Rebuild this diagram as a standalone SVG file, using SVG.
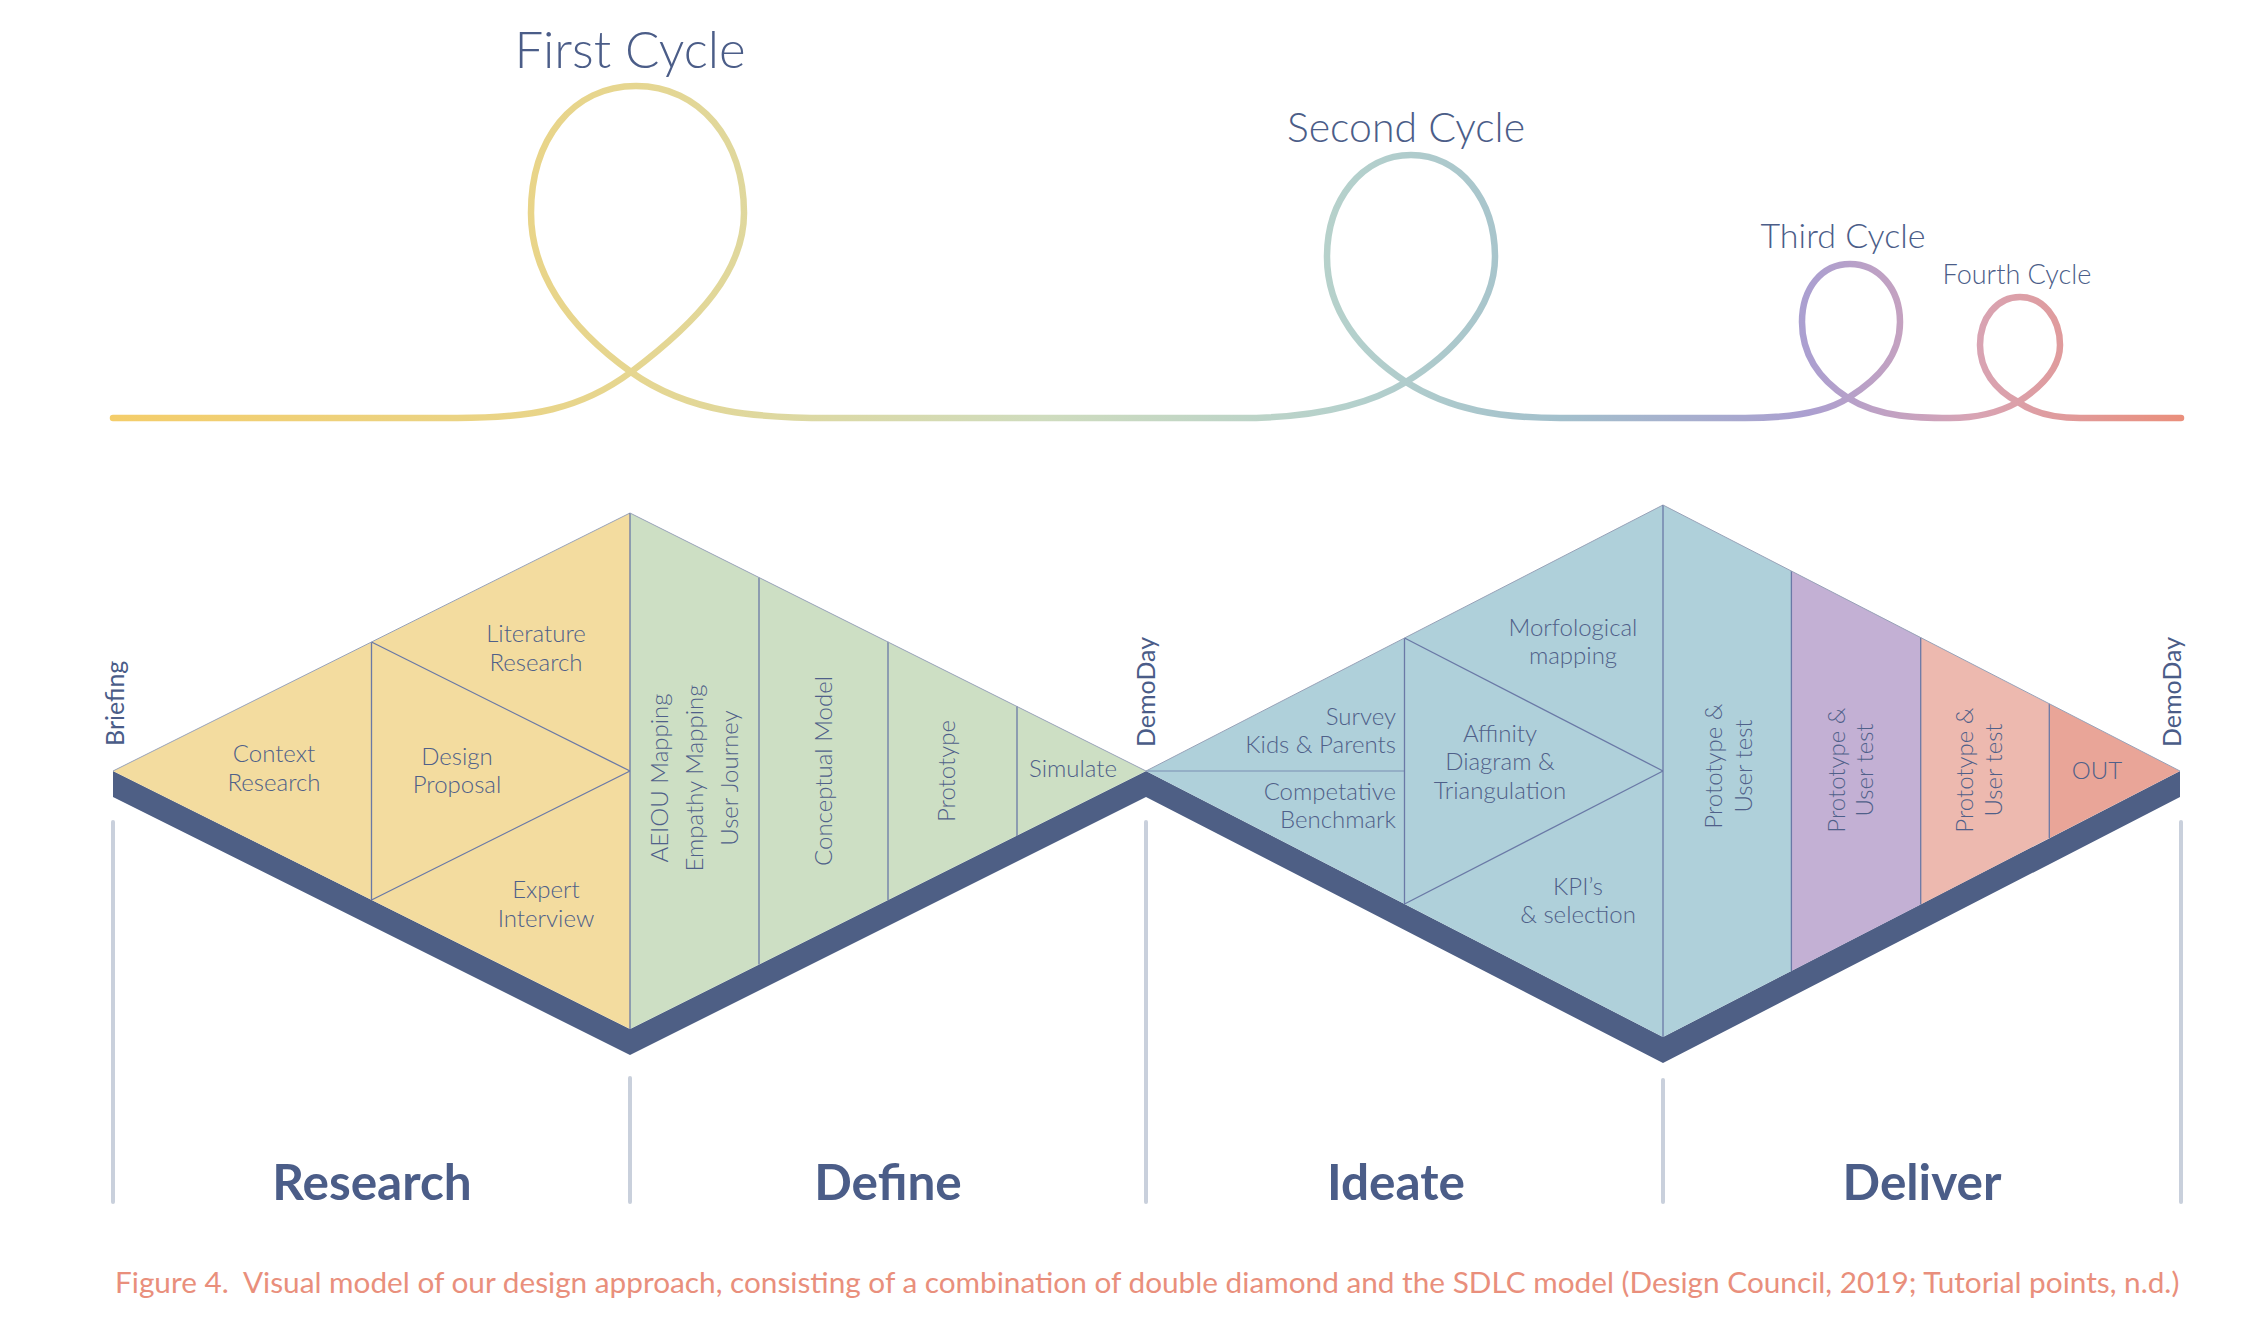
<svg xmlns="http://www.w3.org/2000/svg" width="2250" height="1334" viewBox="0 0 2250 1334">
  <style>
    .lbl { font-family: Lato, "Liberation Sans", sans-serif; font-weight: 300; font-size: 24px; fill: #4f6089; }
    .mid { text-anchor: middle; }
    .end { text-anchor: end; }
    .mark { font-family: Lato, "Liberation Sans", sans-serif; font-weight: 400; font-size: 25px; fill: #4a5c88; }
    .phase { font-family: Lato, "Liberation Sans", sans-serif; font-weight: 700; font-size: 49.5px; fill: #4b5d88; text-anchor: middle; }
    .cyc { font-family: Lato, "Liberation Sans", sans-serif; font-weight: 300; fill: #4b5d88; text-anchor: middle; }
    .div { stroke: #6a79a6; stroke-width: 1.3; fill: none; }
    .edge { stroke: #98a2b8; stroke-width: 1; fill: none; }
    .tick { stroke: #c9d0dc; stroke-width: 4; stroke-linecap: round; }
    .cap { font-family: Lato, "Liberation Sans", sans-serif; font-weight: 400; font-size: 29.75px; fill: #e98f7c; white-space: pre; }
  </style>
  <defs>
    <linearGradient id="cycGrad" gradientUnits="userSpaceOnUse" x1="113" y1="0" x2="2181" y2="0">
      <stop offset="0" stop-color="#f4cd6a"/>
      <stop offset="0.25" stop-color="#e6d690"/>
      <stop offset="0.45" stop-color="#cfdcbe"/>
      <stop offset="0.6" stop-color="#b4d0cc"/>
      <stop offset="0.7" stop-color="#a3c0cc"/>
      <stop offset="0.82" stop-color="#ab9fd0"/>
      <stop offset="0.9" stop-color="#d8a4b4"/>
      <stop offset="1" stop-color="#ea8f7c"/>
    </linearGradient>
  </defs>

  <!-- cycle line -->
  <g id="cycles">
    <path fill="none" stroke="url(#cycGrad)" stroke-width="6.5" stroke-linecap="round" d="M113,418 L457,418 C530,418 580,410 631,372 C700,320 744,270 744,213 C744,140 700,86 636,86 C572,86 531,140 531,213 C531,270 565,325 631,372 C690,414 760,418 830,418 L1240,418 C1300,418 1360,410 1406,382 C1450,355 1495,310 1495,257 C1495,200 1460,155 1411,155 C1362,155 1327,200 1327,257 C1327,310 1360,352 1406,382 C1450,410 1500,418 1560,418 L1745,418 C1790,418 1825,413 1848,398 C1880,378 1900,355 1900,322 C1900,288 1878,264 1850,264 C1822,264 1802,288 1802,322 C1802,355 1820,380 1848,398 C1880,418 1920,418 1950,418 C1980,418 2000,412 2018,402 C2040,388 2060,370 2060,345 C2060,318 2043,297 2020,297 C1997,297 1980,318 1980,345 C1980,370 1995,390 2018,402 C2035,414 2055,418 2080,418 L2181,418"/>
    <text class="cyc" x="630" y="68" font-size="51">First Cycle</text>
    <text class="cyc" x="1406" y="142" font-size="41">Second Cycle</text>
    <text class="cyc" x="1843" y="248" font-size="34">Third Cycle</text>
    <text class="cyc" x="2017" y="284" font-size="27">Fourth Cycle</text>
  </g>

  <!-- base shadow -->
  <g id="base">
    <polygon fill="#4e5f85" points="113,771 630,1029 1146,771 1663,1037 2180,771 2180,797 1663,1063 1146,797 630,1055 113,797"/>
  </g>

  <!-- Research -->
  <g id="research">
    <polygon fill="#f3dc9f" points="113,771 630,513 630,1029"/>
    <line class="div" x1="371.5" y1="642" x2="371.5" y2="900"/>
    <line class="div" x1="371.5" y1="642" x2="630" y2="771"/>
    <line class="div" x1="371.5" y1="900" x2="630" y2="771"/>
    <polyline class="edge" points="113,771 630,513"/>
    <text class="lbl mid" x="536" y="642">Literature</text>
    <text class="lbl mid" x="536" y="671">Research</text>
    <text class="lbl mid" x="274" y="762">Context</text>
    <text class="lbl mid" x="274" y="791">Research</text>
    <text class="lbl mid" x="457" y="765">Design</text>
    <text class="lbl mid" x="457" y="793">Proposal</text>
    <text class="lbl mid" x="546" y="898">Expert</text>
    <text class="lbl mid" x="546" y="927">Interview</text>
  </g>

  <!-- Define -->
  <g id="define">
    <polygon fill="#cddfc4" points="630,513 1146,771 630,1029"/>
    <line class="div" x1="630" y1="513" x2="630" y2="1029"/>
    <line class="div" x1="759" y1="577.4" x2="759" y2="964.6"/>
    <line class="div" x1="888" y1="641.7" x2="888" y2="900.3"/>
    <line class="div" x1="1017" y1="706.1" x2="1017" y2="835.9"/>
    <polyline class="edge" points="630,513 1146,771"/>
    <text class="lbl mid" transform="translate(668,778) rotate(-90)">AEIOU Mapping</text>
    <text class="lbl mid" transform="translate(703,778) rotate(-90)">Empathy Mapping</text>
    <text class="lbl mid" transform="translate(738,778) rotate(-90)">User Journey</text>
    <text class="lbl mid" transform="translate(832,771) rotate(-90)">Conceptual Model</text>
    <text class="lbl mid" transform="translate(955,771) rotate(-90)">Prototype</text>
    <text class="lbl mid" x="1073" y="777">Simulate</text>
  </g>

  <!-- Ideate -->
  <g id="ideate">
    <polygon fill="#afd0da" points="1146,771 1663,505 1663,1037"/>
    <line class="div" x1="1146" y1="771" x2="1404.5" y2="771" stroke-opacity="0.5"/>
    <line class="div" x1="1404.5" y1="638" x2="1404.5" y2="904"/>
    <line class="div" x1="1404.5" y1="638" x2="1663" y2="771"/>
    <line class="div" x1="1404.5" y1="904" x2="1663" y2="771"/>
    <polyline class="edge" points="1146,771 1663,505"/>
    <text class="lbl mid" x="1573" y="636">Morfological</text>
    <text class="lbl mid" x="1573" y="664">mapping</text>
    <text class="lbl end" x="1396" y="725">Survey</text>
    <text class="lbl end" x="1396" y="753">Kids &amp; Parents</text>
    <text class="lbl end" x="1396" y="800">Competative</text>
    <text class="lbl end" x="1396" y="828">Benchmark</text>
    <text class="lbl mid" x="1500" y="742">Affinity</text>
    <text class="lbl mid" x="1500" y="770">Diagram &amp;</text>
    <text class="lbl mid" x="1500" y="799">Triangulation</text>
    <text class="lbl mid" x="1578" y="895">KPI’s</text>
    <text class="lbl mid" x="1578" y="923">&amp; selection</text>
  </g>

  <!-- Deliver -->
  <g id="deliver">
    <polygon fill="#afd0da" points="1663,505 1791.4,571.1 1791.4,970.9 1663,1037"/>
    <polygon fill="#c3b0d4" points="1791.4,571.1 1920.7,637.6 1920.7,904.4 1791.4,970.9"/>
    <polygon fill="#edb9af" points="1920.7,637.6 2049.3,703.8 2049.3,838.2 1920.7,904.4"/>
    <polygon fill="#e9a598" points="2049.3,703.8 2180,771 2049.3,838.2"/>
    <line class="div" x1="1663" y1="505" x2="1663" y2="1037"/>
    <line class="div" x1="1791.4" y1="571.1" x2="1791.4" y2="970.9"/>
    <line class="div" x1="1920.7" y1="637.6" x2="1920.7" y2="904.4"/>
    <line class="div" x1="2049.3" y1="703.8" x2="2049.3" y2="838.2"/>
    <polyline class="edge" points="1663,505 2180,771"/>
    <text class="lbl mid" transform="translate(1722,766) rotate(-90)">Prototype &amp;</text>
    <text class="lbl mid" transform="translate(1752,766) rotate(-90)">User test</text>
    <text class="lbl mid" transform="translate(1845,770) rotate(-90)">Prototype &amp;</text>
    <text class="lbl mid" transform="translate(1873,770) rotate(-90)">User test</text>
    <text class="lbl mid" transform="translate(1973,770) rotate(-90)">Prototype &amp;</text>
    <text class="lbl mid" transform="translate(2002,770) rotate(-90)">User test</text>
    <text class="lbl mid" x="2097" y="779">OUT</text>
  </g>

  <!-- milestones -->
  <g id="milestones">
    <text class="mark" transform="translate(124,746) rotate(-90)">Briefing</text>
    <text class="mark" transform="translate(1155,747) rotate(-90)">DemoDay</text>
    <text class="mark" transform="translate(2181,747) rotate(-90)">DemoDay</text>
  </g>

  <!-- phase dividers -->
  <g id="phase-lines">
    <line class="tick" x1="113" y1="822" x2="113" y2="1202"/>
    <line class="tick" x1="630" y1="1078" x2="630" y2="1202"/>
    <line class="tick" x1="1146" y1="822" x2="1146" y2="1202"/>
    <line class="tick" x1="1663" y1="1080" x2="1663" y2="1202"/>
    <line class="tick" x1="2181" y1="822" x2="2181" y2="1202"/>
  </g>

  <g id="phases">
    <text class="phase" x="372" y="1200">Research</text>
    <text class="phase" x="888" y="1200">Define</text>
    <text class="phase" x="1396" y="1200">Ideate</text>
    <text class="phase" x="1922" y="1200">Deliver</text>
  </g>

  <g id="caption">
    <text class="cap" x="115" y="1293" xml:space="preserve">Figure 4.  Visual model of our design approach, consisting of a combination of double diamond and the SDLC model (Design Council, 2019; Tutorial points, n.d.)</text>
  </g>
</svg>
